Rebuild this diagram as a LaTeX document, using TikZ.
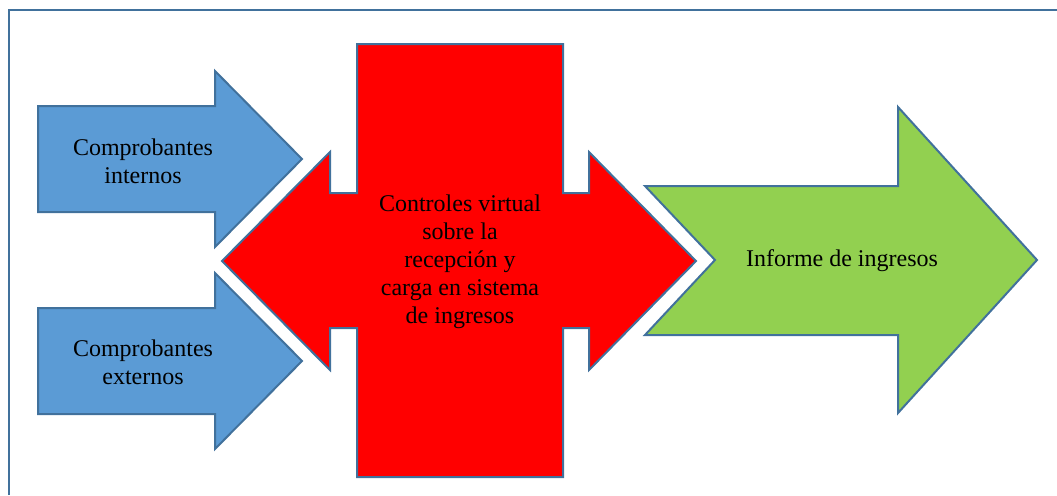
\documentclass[tikz,border=0pt]{standalone}
\usepackage{fontspec}
\setmainfont{Liberation Serif}
\usetikzlibrary{positioning}
\definecolor{edgeblue}{HTML}{41719C}
\definecolor{boxblue}{HTML}{5B9BD5}
\definecolor{boxgreen}{HTML}{92D050}

\begin{document}
\begin{tikzpicture}[
  x=0.5pt, y=-0.5pt,
  every node/.style={font=\fontsize{12}{14}\selectfont},
  blk/.style={draw=edgeblue, line width=1pt, line join=miter},
  lbl/.style={align=center, inner sep=0pt},
]
  \useasboundingbox (0,0) rectangle (1057,495);

  % Outer frame (runs off the page at right and bottom)
  \draw[edgeblue, line width=1.1pt] (9,495) -- (9,10) -- (1057,10);

  % Input arrows
  \draw[blk, fill=boxblue] (38,106) -- (215,106) -- (215,71) -- (302,159)
    -- (215,247) -- (215,212) -- (38,212) -- cycle;
  \draw[blk, fill=boxblue] (38,308) -- (215,308) -- (215,273) -- (302,361)
    -- (215,449) -- (215,414) -- (38,414) -- cycle;

  % Central cross with double arrow
  \draw[blk, fill=red] (357,44) -- (563,44) -- (563,193) -- (589,193)
    -- (589,152) -- (696,261) -- (589,370) -- (589,328) -- (563,328)
    -- (563,477) -- (357,477) -- (357,328) -- (330,328) -- (330,370)
    -- (222,261) -- (330,152) -- (330,193) -- (357,193) -- cycle;

  % Output notched arrow
  \draw[blk, fill=boxgreen] (645,186) -- (898,186) -- (898,107) -- (1037,260)
    -- (898,413) -- (898,335) -- (645,335) -- (715,260) -- cycle;

  % Labels
  \node[lbl] (intern) at (143,161) {Comprobantes\\internos};
  \node[lbl] (extern) at (143,362) {Comprobantes\\externos};
  \node[lbl] (ctrl)   at (460,262) {Controles virtual\\sobre la\\recepción y\\carga en sistema\\de ingresos};
  \node[lbl] (inform) at (842,261) {Informe de ingresos};
\end{tikzpicture}
\end{document}
